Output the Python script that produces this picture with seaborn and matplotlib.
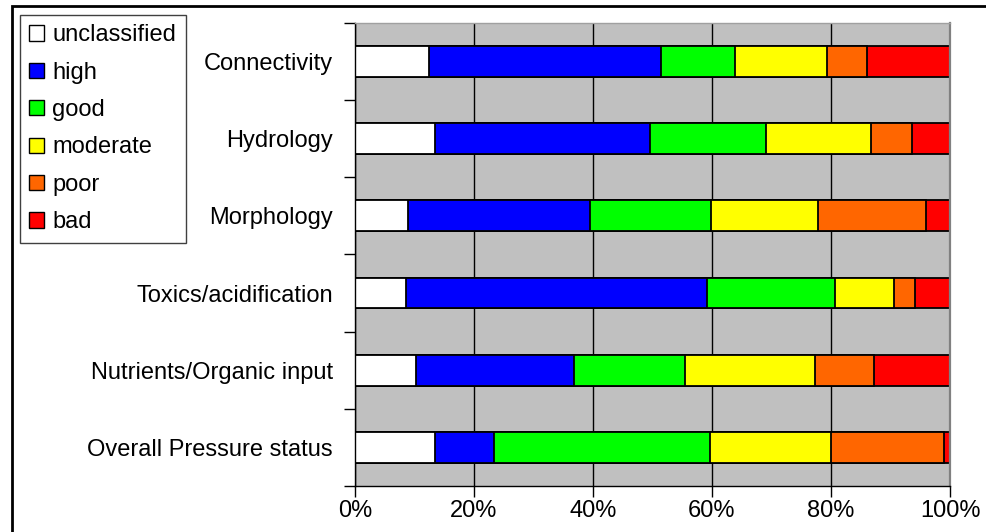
import numpy as np
import pandas as pd
import matplotlib
matplotlib.use("Agg")
import matplotlib.pyplot as plt
from matplotlib.patches import Patch, Rectangle
from matplotlib.ticker import FixedLocator, PercentFormatter
import seaborn as sns

# Pressure categories (top to bottom)
categories = [
    "Connectivity",
    "Hydrology",
    "Morphology",
    "Toxics/acidification",
    "Nutrients/Organic input",
    "Overall Pressure status",
]

# Share of water bodies per status class (%)
unclassified = [12.5, 13.4, 8.9, 8.5, 10.3, 13.5]
high         = [38.9, 36.2, 30.6, 50.6, 26.5, 9.9]
good         = [12.4, 19.4, 20.4, 21.5, 18.6, 36.3]
moderate     = [15.5, 17.8, 17.9, 10.0, 21.9, 20.3]
poor         = [6.8, 6.8, 18.1, 3.6, 9.9, 19.0]
bad          = [13.9, 6.4, 4.1, 5.8, 12.8, 1.0]

classes = ["unclassified", "high", "good", "moderate", "poor", "bad"]
colors = ["#FFFFFF", "#0000FF", "#00FF00", "#FFFF00", "#FF6600", "#FF0000"]
xticks = [0, 20, 40, 60, 80, 100]

sns.set_theme(style="white")
plt.rcParams["font.family"] = ["Liberation Sans", "DejaVu Sans"]
plt.rcParams["font.size"] = 17
plt.rcParams["text.color"] = "black"
plt.rcParams["xtick.color"] = "black"
plt.rcParams["ytick.color"] = "black"
plt.rcParams["xtick.labelcolor"] = "black"
plt.rcParams["ytick.labelcolor"] = "black"

df = pd.DataFrame(
    {
        "category": categories,
        "unclassified": unclassified,
        "high": high,
        "good": good,
        "moderate": moderate,
        "poor": poor,
        "bad": bad,
    }
)
# cumulative right edge of each stacked segment
cum = df[classes].cumsum(axis=1)
cum["category"] = df["category"]

fig = plt.figure(figsize=(9.86, 5.32), dpi=100)
ax = fig.add_axes([0.360, 0.0865, 0.6035, 0.8703])
ax.set_facecolor("#C0C0C0")
ax.set_axisbelow(True)

# draw the stack from the outermost segment inwards
for cls, col in reversed(list(zip(classes, colors))):
    sns.barplot(
        data=cum, x=cls, y="category", order=categories,
        color=col, width=0.4, edgecolor="black", linewidth=1.3,
        saturation=1, ax=ax, orient="h",
    )

ax.set_xlim(0, 100)
ax.set_ylim(len(categories) - 0.5, -0.5)
ax.set_xlabel("")
ax.set_ylabel("")

ax.xaxis.set_major_locator(FixedLocator(xticks))
ax.xaxis.set_major_formatter(PercentFormatter(decimals=0))
ax.xaxis.grid(True, color="black", linewidth=1.0)
ax.yaxis.grid(False)

# category labels without ticks; ticks sit on category boundaries
ax.set_yticks(range(len(categories)))
ax.set_yticklabels(categories)
ax.tick_params(axis="y", which="major", length=0, pad=16, labelsize=17,
               labelcolor="black")
ax.set_yticks(np.arange(-0.5, len(categories), 1.0), minor=True)
ax.tick_params(axis="y", which="minor", left=True, length=8, width=1.0,
               color="black", direction="out")
ax.tick_params(axis="x", which="major", bottom=True, length=8, width=1.0,
               color="black", direction="out", pad=2, labelsize=17,
               labelcolor="black")

for side in ["left", "bottom"]:
    ax.spines[side].set_color("black")
    ax.spines[side].set_linewidth(1.0)
ax.spines["top"].set_color("#A0A0A0")
ax.spines["top"].set_linewidth(1.0)
ax.spines["right"].set_color("#808080")
ax.spines["right"].set_linewidth(1.6)

handles = [Patch(facecolor=c, edgecolor="black", linewidth=1.0) for c in colors]
leg = fig.legend(
    handles, classes, loc="upper left",
    bbox_to_anchor=(20 / 986, 1 - 15 / 532), borderaxespad=0,
    frameon=True, fancybox=False, framealpha=1, edgecolor="#404040",
    handlelength=0.62, handleheight=0.62, handletextpad=0.35,
    labelspacing=0.65, borderpad=0.4, fontsize=17,
)
leg.get_frame().set_linewidth(1.0)
for t in leg.get_texts():
    t.set_color("black")

# outer chart border
fig.add_artist(Rectangle((12 / 986, -0.2), 1.2, 1 - 6 / 532 + 0.2,
                         transform=fig.transFigure, fill=False,
                         edgecolor="black", linewidth=2.0))

fig.savefig("out.png", dpi=100, facecolor="white")
